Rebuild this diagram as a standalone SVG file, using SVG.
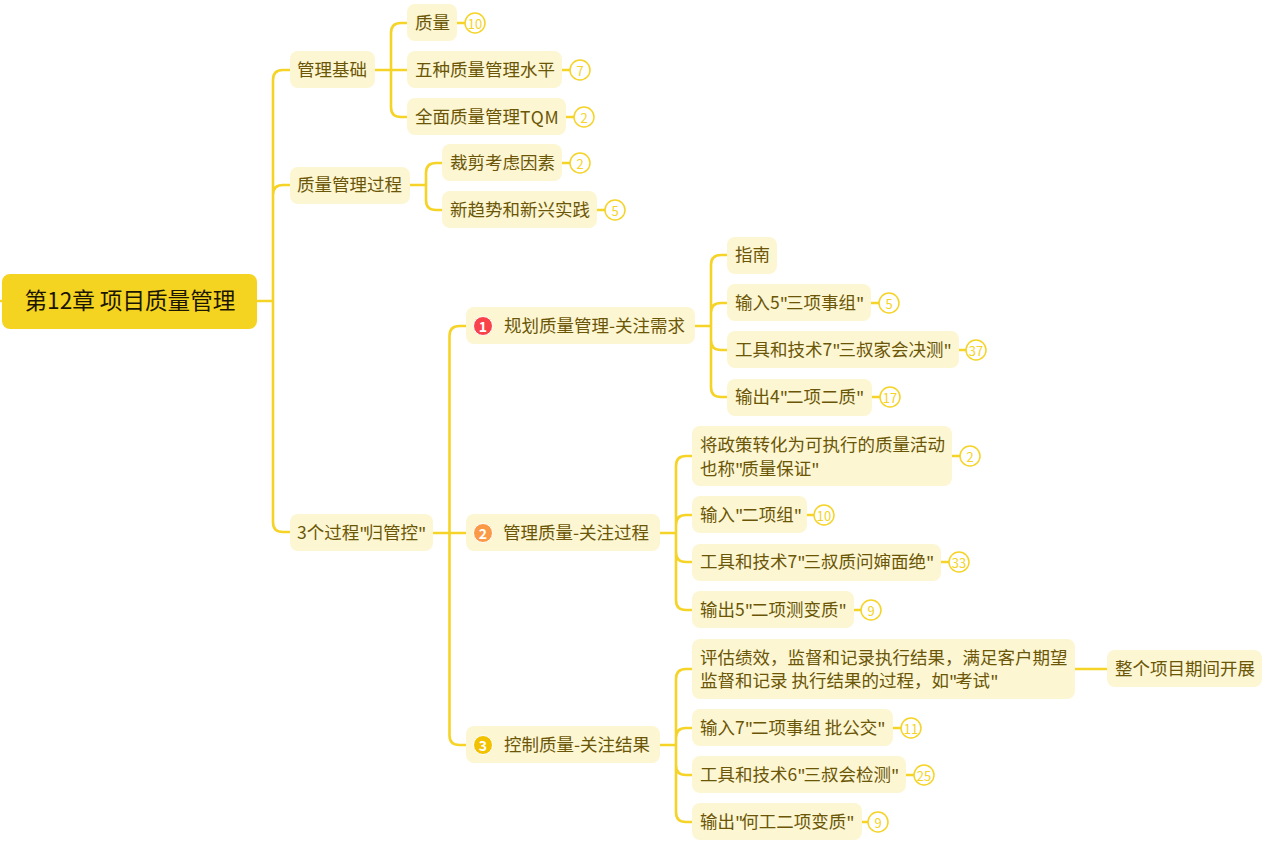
<svg xmlns="http://www.w3.org/2000/svg" width="1279" height="843" viewBox="0 0 1279 843">
<style>
text{font-family:"Noto Sans CJK SC","Noto Sans",sans-serif;}
.n{fill:#FDF6D3;}
.t{font-size:17.5px;fill:#6B5607;dominant-baseline:central;transform:translateY(-1.5px);}
.q{letter-spacing:-2.1px;}
.r{fill:#F4D420;}
.rt{font-size:22.6px;fill:#1c1600;dominant-baseline:central;transform:translateY(-1.5px);}
.c{fill:none;stroke:#F5D327;stroke-width:2.6;stroke-linecap:round;}
.b{fill:#fff;stroke:#F5D327;stroke-width:1.5;}
.bt{font-size:13px;fill:#F5D327;text-anchor:middle;dominant-baseline:central;}
.ic{stroke:#fff;stroke-width:1;}
.it{font-size:14px;font-weight:700;fill:#fff;text-anchor:middle;dominant-baseline:central;}
</style>
<g id="connectors">
<path class="c" d="M0 301H3M257 301H273M290 70H283Q273 70 273 80V522Q273 532 283 532H290M273 195Q273 185 283 185H290"/>
<path class="c" d="M375 70H407M407 23H401Q391 23 391 33V107Q391 117 401 117H407"/>
<path class="c" d="M410 185H426M442 163H436Q426 163 426 173V200Q426 210 436 210H442"/>
<path class="c" d="M433 533H466M466 326H459.500Q449.500 326 449.500 336V735Q449.500 745 459.500 745H466"/>
<path class="c" d="M695 326H711M727 255H721Q711 255 711 265V387Q711 397 721 397H727M711 313Q711 303 721 303H727M711 340Q711 350 721 350H727"/>
<path class="c" d="M660 533H676M692 456H686Q676 456 676 466V600Q676 610 686 610H692M676 525Q676 515 686 515H692M676 552Q676 562 686 562H692"/>
<path class="c" d="M660 745H676M692 669H686Q676 669 676 679V812Q676 822 686 822H692M676 738Q676 728 686 728H692M676 765Q676 775 686 775H692"/>
<path class="c" d="M1075 669H1107"/>
<path class="c" d="M457 23H465M562 70H570M566 117H574M562 163H570M597 210H605M871 303H879M959 350H966M872 397H880M952 456H960M807 515H815M941 562H949M854 610H861M893 728H901M906 775H914M862 822H868"/>
</g>
<g id="root"><rect class="r" x="2" y="274" width="255" height="55" rx="8"/><text class="rt" x="24.500" y="301">第12章 项目质量管理</text></g>
<g id="n1"><rect class="n" x="290" y="51" width="85" height="37" rx="8"/><text class="t" x="297" y="70">管理基础</text></g>
<g id="n2"><rect class="n" x="407" y="4" width="50" height="37" rx="8"/><text class="t" x="415" y="23">质量</text><circle class="b" cx="475" cy="23" r="10"/><text class="bt" x="475" y="23">10</text></g>
<g id="n3"><rect class="n" x="407" y="51" width="155" height="37" rx="8"/><text class="t" x="415" y="70">五种质量管理水平</text><circle class="b" cx="580" cy="70" r="10"/><text class="bt" x="580" y="70">7</text></g>
<g id="n4"><rect class="n" x="407" y="98" width="159" height="37" rx="8"/><text class="t" x="415" y="117">全面质量管理<tspan letter-spacing="0.8">TQM</tspan></text><circle class="b" cx="584" cy="117" r="10"/><text class="bt" x="584" y="117">2</text></g>
<g id="n5"><rect class="n" x="290" y="167" width="120" height="37" rx="8"/><text class="t" x="297" y="185">质量管理过程</text></g>
<g id="n6"><rect class="n" x="442" y="144" width="120" height="37" rx="8"/><text class="t" x="450" y="163">裁剪考虑因素</text><circle class="b" cx="580" cy="163" r="10"/><text class="bt" x="580" y="163">2</text></g>
<g id="n7"><rect class="n" x="442" y="191" width="155" height="37" rx="8"/><text class="t" x="450" y="210">新趋势和新兴实践</text><circle class="b" cx="615" cy="210" r="10"/><text class="bt" x="615" y="210">5</text></g>
<g id="n8"><rect class="n" x="290" y="514" width="143" height="37" rx="8"/><text class="t" x="297" y="533">3个过程<tspan class="q">"</tspan>归管控<tspan class="q">"</tspan></text></g>
<g id="n9"><rect class="n" x="466" y="307" width="229" height="37" rx="8"/><circle cx="483" cy="326" r="9.500" fill="#F8434B" class="ic"/><text class="it" x="483" y="326">1</text><text class="t" x="504" y="326">规划质量管理-关注需求</text></g>
<g id="n10"><rect class="n" x="727" y="237" width="50" height="37" rx="8"/><text class="t" x="735" y="255">指南</text></g>
<g id="n11"><rect class="n" x="727" y="284" width="144" height="37" rx="8"/><text class="t" x="735" y="303">输入5<tspan class="q">"</tspan>三项事组<tspan class="q">"</tspan></text><circle class="b" cx="889" cy="303" r="10"/><text class="bt" x="889" y="303">5</text></g>
<g id="n12"><rect class="n" x="727" y="331" width="232" height="37" rx="8"/><text class="t" x="735" y="350">工具和技术7<tspan class="q">"</tspan>三叔家会决测<tspan class="q">"</tspan></text><circle class="b" cx="976" cy="350" r="10"/><text class="bt" x="976" y="350">37</text></g>
<g id="n13"><rect class="n" x="727" y="379" width="145" height="37" rx="8"/><text class="t" x="735" y="397">输出4<tspan class="q">"</tspan>二项二质<tspan class="q">"</tspan></text><circle class="b" cx="890" cy="397" r="10"/><text class="bt" x="890" y="397">17</text></g>
<g id="n14"><rect class="n" x="466" y="514" width="194" height="37" rx="8"/><circle cx="483" cy="533" r="9.500" fill="#FA9A47" class="ic"/><text class="it" x="483" y="533">2</text><text class="t" x="503" y="533">管理质量-关注过程</text></g>
<g id="n15"><rect class="n" x="692" y="426" width="260" height="60" rx="8"/><text class="t" x="700" y="445">将政策转化为可执行的质量活动</text><text class="t" x="700" y="469">也称<tspan class="q">"</tspan>质量保证<tspan class="q">"</tspan></text><circle class="b" cx="970" cy="456" r="10"/><text class="bt" x="970" y="456">2</text></g>
<g id="n16"><rect class="n" x="692" y="496" width="115" height="37" rx="8"/><text class="t" x="700" y="515">输入<tspan class="q">"</tspan>二项组<tspan class="q">"</tspan></text><circle class="b" cx="824" cy="515" r="10"/><text class="bt" x="824" y="515">10</text></g>
<g id="n17"><rect class="n" x="692" y="544" width="249" height="37" rx="8"/><text class="t" x="700" y="562">工具和技术7<tspan class="q">"</tspan>三叔质问婶面绝<tspan class="q">"</tspan></text><circle class="b" cx="959" cy="562" r="10"/><text class="bt" x="959" y="562">33</text></g>
<g id="n18"><rect class="n" x="692" y="591" width="162" height="37" rx="8"/><text class="t" x="700" y="610">输出5<tspan class="q">"</tspan>二项测变质<tspan class="q">"</tspan></text><circle class="b" cx="871" cy="610" r="10"/><text class="bt" x="871" y="610">9</text></g>
<g id="n19"><rect class="n" x="466" y="726" width="194" height="37" rx="8"/><circle cx="483" cy="745" r="9.500" fill="#F2C200" class="ic"/><text class="it" x="483" y="745">3</text><text class="t" x="504" y="745">控制质量-关注结果</text></g>
<g id="n20"><rect class="n" x="692" y="639" width="383" height="60" rx="8"/><text class="t" x="700" y="658">评估绩效，监督和记录执行结果，满足客户期望</text><text class="t" x="700" y="681">监督和记录 执行结果的过程，如<tspan class="q">"</tspan>考试<tspan class="q">"</tspan></text></g>
<g id="n21"><rect class="n" x="1107" y="650" width="155" height="37" rx="8"/><text class="t" x="1115" y="669">整个项目期间开展</text></g>
<g id="n22"><rect class="n" x="692" y="709" width="201" height="37" rx="8"/><text class="t" x="700" y="728">输入7<tspan class="q">"</tspan>二项事组 批公交<tspan class="q">"</tspan></text><circle class="b" cx="911" cy="728" r="10"/><text class="bt" x="911" y="728">11</text></g>
<g id="n23"><rect class="n" x="692" y="756" width="214" height="37" rx="8"/><text class="t" x="700" y="775">工具和技术6<tspan class="q">"</tspan>三叔会检测<tspan class="q">"</tspan></text><circle class="b" cx="924" cy="775" r="10"/><text class="bt" x="924" y="775">25</text></g>
<g id="n24"><rect class="n" x="692" y="803" width="170" height="37" rx="8"/><text class="t" x="700" y="822">输出<tspan class="q">"</tspan>何工二项变质<tspan class="q">"</tspan></text><circle class="b" cx="878" cy="822" r="10"/><text class="bt" x="878" y="822">9</text></g>
</svg>
